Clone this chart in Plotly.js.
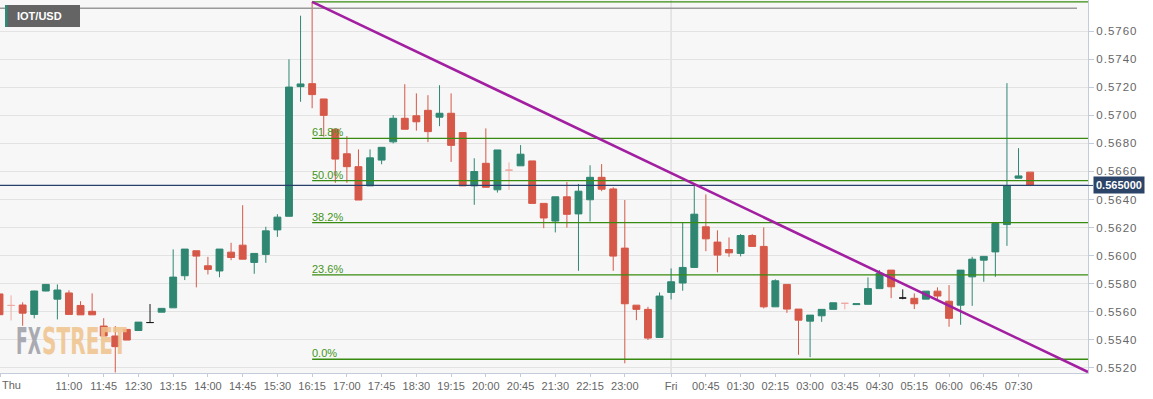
<!DOCTYPE html>
<html><head><meta charset="utf-8">
<script src="https://cdn.plot.ly/plotly-3.0.1.min.js"></script>
<style>
html,body{margin:0;padding:0;background:#fff;overflow:hidden;}
#chart{width:1153px;height:399px;}
.yaxislayer-above text{letter-spacing:1px;}
</style></head><body><div id="chart"></div>
<script>
// ---------- data ----------
const thuDate = '2021-06-10';
const friDate = '2021-06-11';
const thuTimes = ['09:30','09:45','10:00','10:15','10:30','10:45','11:00','11:15','11:30','11:45',
  '12:00','12:15','12:30','12:45','13:00','13:15','13:30','13:45','14:00','14:15',
  '14:30','14:45','15:00','15:15','15:30','15:45','16:00','16:15','16:30','16:45',
  '17:00','17:15','17:30','17:45','18:00','18:15','18:30','18:45','19:00','19:15',
  '19:30','19:45','20:00','20:15','20:30','20:45','21:00','21:15','21:30','21:45',
  '22:00','22:15','22:30','22:45','23:00','23:15','23:30','23:45'];
const friTimes = ['00:00','00:15','00:30','00:45','01:00','01:15','01:30','01:45','02:00','02:15',
  '02:30','02:45','03:00','03:15','03:30','03:45','04:00','04:15','04:30','04:45',
  '05:00','05:15','05:30','05:45','06:00','06:15','06:30','06:45','07:00','07:15',
  '07:30','07:45'];
const opens = [0.55726,0.55644,0.55647,0.55580,0.55747,0.55689,0.55733,0.55644,0.55602,0.55497,
  0.55426,0.55473,0.55465,0.55522,0.55596,0.55627,0.55856,0.56034,0.55927,0.55890,
  0.56024,0.56074,0.55951,0.56008,0.56183,0.56280,0.57205,0.57226,0.57117,0.56901,
  0.56726,0.56634,0.56497,0.56681,0.56811,0.56979,0.56997,0.57036,0.56987,0.57015,
  0.56877,0.56497,0.56658,0.56469,0.56609,0.56640,0.56675,0.56372,0.56246,0.56419,
  0.56297,0.56398,0.56558,0.56475,0.56053,0.55646,0.55616,0.55416,0.55737,0.55804,
  0.55915,0.56205,0.56096,0.56043,0.56015,0.56143,0.56065,0.55634,0.55794,0.55618,
  0.55532,0.55570,0.55616,0.55659,0.55650,0.55652,0.55764,0.55896,0.55697,0.55695,
  0.55689,0.55746,0.55674,0.55646,0.55848,0.55967,0.56026,0.56221,0.56552,0.56595];
const highs = [0.55735,0.55716,0.55666,0.55749,0.55796,0.55794,0.55752,0.55674,0.55730,0.55553,
  0.55497,0.55473,0.55525,0.55654,0.55623,0.56044,0.56046,0.56034,0.55991,0.56046,
  0.56091,0.56359,0.56015,0.56205,0.56295,0.57400,0.57711,0.57810,0.57117,0.56901,
  0.56852,0.56757,0.56757,0.56772,0.57002,0.57222,0.57157,0.57144,0.57215,0.57157,
  0.56877,0.56694,0.56907,0.56753,0.56664,0.56788,0.56675,0.56372,0.56419,0.56525,
  0.56511,0.56644,0.56652,0.56487,0.56396,0.55646,0.55634,0.55737,0.55908,0.56233,
  0.56509,0.56436,0.56180,0.56129,0.56153,0.56153,0.56201,0.55830,0.55794,0.55618,
  0.55575,0.55616,0.55663,0.55659,0.55656,0.55844,0.55896,0.55896,0.55759,0.55730,
  0.55746,0.55773,0.55789,0.55896,0.55991,0.55994,0.56233,0.57230,0.56766,0.56595];
const lows = [0.55570,0.55537,0.55499,0.55552,0.55745,0.55544,0.55580,0.55577,0.55577,0.55420,
  0.55166,0.55397,0.55465,0.55522,0.55596,0.55627,0.55825,0.55773,0.55865,0.55845,
  0.55967,0.55974,0.55870,0.55948,0.56133,0.56280,0.57097,0.57051,0.56848,0.56519,
  0.56519,0.56396,0.56497,0.56651,0.56800,0.56901,0.56891,0.56809,0.56923,0.56668,
  0.56497,0.56362,0.56487,0.56449,0.56468,0.56640,0.56372,0.56195,0.56165,0.56199,
  0.55891,0.56243,0.56459,0.55891,0.55231,0.55539,0.55397,0.55416,0.55687,0.55749,
  0.55915,0.56031,0.55880,0.55991,0.55994,0.56065,0.55623,0.55634,0.55591,0.55292,
  0.55275,0.55527,0.55616,0.55616,0.55650,0.55652,0.55764,0.55696,0.55688,0.55618,
  0.55689,0.55689,0.55492,0.55506,0.55641,0.55813,0.55848,0.56069,0.56552,0.56495];
const closes = [0.55578,0.55644,0.55589,0.55747,0.55794,0.55754,0.55580,0.55577,0.55577,0.55426,
  0.55350,0.55397,0.55525,0.55522,0.55623,0.55846,0.56046,0.55996,0.55901,0.56046,
  0.55986,0.55974,0.56015,0.56176,0.56274,0.57202,0.57224,0.57148,0.57000,0.56688,
  0.56634,0.56396,0.56697,0.56772,0.56979,0.56901,0.56954,0.56884,0.57015,0.56786,
  0.56497,0.56599,0.56487,0.56753,0.56609,0.56723,0.56372,0.56268,0.56419,0.56294,
  0.56459,0.56558,0.56473,0.55996,0.55656,0.55616,0.55411,0.55711,0.55813,0.55915,
  0.56295,0.56119,0.56003,0.56019,0.56143,0.56065,0.55634,0.55820,0.55618,0.55539,
  0.55575,0.55616,0.55663,0.55659,0.55656,0.55764,0.55873,0.55777,0.55697,0.55656,
  0.55746,0.55711,0.55552,0.55896,0.55974,0.55994,0.56229,0.56499,0.56568,0.56500];
const blackDojiIdx = [13, 78];
const paleDojiIdx = [1, 44, 73];

const tickTimes = [thuDate+' 09:30:45',
  thuDate+' 11:00',thuDate+' 11:45',thuDate+' 12:30',thuDate+' 13:15',thuDate+' 14:00',thuDate+' 14:45',
  thuDate+' 15:30',thuDate+' 16:15',thuDate+' 17:00',thuDate+' 17:45',thuDate+' 18:30',thuDate+' 19:15',
  thuDate+' 20:00',thuDate+' 20:45',thuDate+' 21:30',thuDate+' 22:15',thuDate+' 23:00',
  friDate+' 00:00',friDate+' 00:45',friDate+' 01:30',friDate+' 02:15',friDate+' 03:00',friDate+' 03:45',
  friDate+' 04:30',friDate+' 05:15',friDate+' 06:00',friDate+' 06:45',friDate+' 07:30'];
const tickLabels = ['',
  '11:00','11:45','12:30','13:15','14:00','14:45','15:30','16:15','17:00','17:45','18:30','19:15',
  '20:00','20:45','21:30','22:15','23:00',
  'Fri','00:45','01:30','02:15','03:00','03:45','04:30','05:15','06:00','06:45','07:30'];
const firstDayLabel = 'Thu';
const yTicks = [0.5520,0.5540,0.5560,0.5580,0.5600,0.5620,0.5640,0.5660,0.5680,0.5700,0.5720,0.5740,0.5760];

const fibLevels = [0, 0.236, 0.382, 0.5, 0.618, 1];
const fibLabels = ['0.0%', '23.6%', '38.2%', '50.0%', '61.8%', ''];
const fibLow = 0.5526, fibHigh = 0.5781;
const fibStart = thuDate + ' 16:15';
const trendTimes = [thuDate + ' 16:15', friDate + ' 09:00'];
const trendValues = [0.5781, 0.55169];
const lastPrice = 0.5650;
const lastPriceLabel = '0.565000';
const topRefLine = 0.57764;
const symbol = 'IOT/USD';
const watermarkParts = ['FX', 'STREET'];

// ---------- chart ----------
const xStart = thuDate + ' 09:30:40', xEnd = friDate + ' 09:00';
const yMin = 0.55162, yMax = 0.57823;
const W = 1153, H = 399, ML = 0, MR = 65, MT = 0, MB = 26;
const PW = W - ML - MR, PH = H - MT - MB;
const GREEN = '#2f8772', RED = '#d65848';

const xTimes = thuTimes.map(t => thuDate + ' ' + t).concat(friTimes.map(t => friDate + ' ' + t));
const special = new Set(blackDojiIdx.concat(paleDojiIdx));
const mainIdx = xTimes.map((_, i) => i).filter(i => !special.has(i));
const pick = (idx, arr) => idx.map(i => arr[i]);
function candles(idx, inc, dec) {
  return {
    type: 'candlestick', x: pick(idx, xTimes), open: pick(idx, opens), high: pick(idx, highs),
    low: pick(idx, lows), close: pick(idx, closes), whiskerwidth: 0, hoverinfo: 'skip', showlegend: false,
    increasing: {line: {color: inc, width: 1}, fillcolor: inc},
    decreasing: {line: {color: dec, width: 1}, fillcolor: dec}
  };
}
const data = [
  candles(mainIdx, GREEN, RED),
  candles(paleDojiIdx, '#eeaaa2', '#eeaaa2'),
  candles(blackDojiIdx, '#1a1a1a', '#1a1a1a')
];

const fibColor = '#388b10';
const shapes = [
  {type: 'line', xref: 'x', yref: 'paper', x0: friDate + ' 00:00', x1: friDate + ' 00:00', y0: 0, y1: 1,
   line: {color: '#e0e0e0', width: 1.5}, layer: 'below'},
  {type: 'line', xref: 'paper', yref: 'y', x0: 0, x1: 1077 / PW, y0: topRefLine, y1: topRefLine,
   line: {color: '#9a9a9a', width: 1.5}}
];
fibLevels.forEach(l => {
  const v = fibLow + l * (fibHigh - fibLow);
  shapes.push({type: 'line', xref: 'x', yref: 'y', x0: fibStart, x1: xEnd, y0: v, y1: v,
    line: {color: fibColor, width: 1.3}});
});
shapes.push({type: 'line', xref: 'paper', yref: 'y', x0: 0, x1: 1, y0: lastPrice, y1: lastPrice,
  line: {color: '#27416b', width: 1.3}});
shapes.push({type: 'line', xref: 'x', yref: 'y', x0: trendTimes[0], x1: trendTimes[1],
  y0: trendValues[0], y1: trendValues[1], line: {color: '#a11fa0', width: 2.6}});
// symbol box
shapes.push({type: 'rect', xref: 'paper', yref: 'paper', x0: 5 / PW, x1: 80 / PW, y0: 1 - 27 / PH, y1: 1 - 5 / PH,
  fillcolor: '#646464', line: {width: 0}});
shapes.push({type: 'rect', xref: 'paper', yref: 'paper', x0: 5 / PW, x1: 7.5 / PW, y0: 1 - 27 / PH, y1: 1 - 5 / PH,
  fillcolor: '#2f8b78', line: {width: 0}});

const annotations = [];
fibLevels.forEach((l, i) => {
  if (!fibLabels[i]) return;
  annotations.push({xref: 'x', yref: 'y', x: fibStart, y: fibLow + l * (fibHigh - fibLow),
    xanchor: 'left', yanchor: 'bottom', showarrow: false, text: fibLabels[i], xshift: -2, yshift: -2,
    font: {size: 11, color: '#449522', family: 'Liberation Sans, Arial, sans-serif'}});
});
// watermark, two parts, each squeezed horizontally to its width after drawing
const wmFont = 'Liberation Sans Narrow, DejaVu Sans Condensed, Liberation Sans, sans-serif';
const wmLeft = [14, 40], wmWidth = [25, 85], wmColor = ['#9d9da6', '#f1c38c'];
watermarkParts.forEach((p, i) => {
  annotations.push({xref: 'paper', yref: 'paper', x: wmLeft[i] / PW, y: 8 / PH, xanchor: 'left', yanchor: 'bottom',
    showarrow: false, align: 'left', opacity: 0.85, text: '<b>' + p + '</b>',
    font: {size: 37, color: wmColor[i], family: wmFont}});
});
annotations.push({xref: 'paper', yref: 'paper', x: 15 / PW, y: 1 - 16 / PH, xanchor: 'left', yanchor: 'middle',
  showarrow: false, text: '<b>' + symbol + '</b>',
  font: {size: 11, color: '#ffffff', family: 'Liberation Sans, Arial, sans-serif'}});
annotations.push({xref: 'paper', yref: 'paper', x: 0, y: 0, xanchor: 'left', yanchor: 'top', yshift: -4,
  showarrow: false, text: firstDayLabel, font: {size: 11, color: '#666666', family: 'Liberation Sans, Arial, sans-serif'}});
annotations.push({xref: 'paper', yref: 'y', x: 1, y: lastPrice, xanchor: 'left', yanchor: 'middle',
  showarrow: true, ax: 5, ay: 0, arrowhead: 0, arrowwidth: 1, arrowcolor: '#2b4468', standoff: 0,
  text: '<b>' + lastPriceLabel + '</b>', bgcolor: '#2b4468', borderpad: 2,
  font: {size: 11, color: '#ffffff', family: 'Liberation Sans, Arial, sans-serif'}});

const layout = {
  width: W, height: H, margin: {l: ML, r: MR, t: MT, b: MB},
  paper_bgcolor: '#ffffff', plot_bgcolor: '#f7f7f7',
  font: {family: 'Liberation Sans, Arial, sans-serif', color: '#666666'},
  showlegend: false, boxgap: 0.15, boxgroupgap: 0.3, dragmode: false,
  xaxis: {type: 'date', range: [xStart, xEnd], rangeslider: {visible: false}, tickmode: 'array',
    tickvals: tickTimes, ticktext: tickLabels, ticks: 'outside', ticklen: 3, tickcolor: '#c5ccd9',
    showgrid: false, showline: true, linecolor: '#c5ccd9', linewidth: 1, zeroline: false,
    tickfont: {size: 11, color: '#666666'}},
  yaxis: {side: 'right', range: [yMin, yMax], tickmode: 'array', tickvals: yTicks,
    ticktext: yTicks.map(v => v.toFixed(4)), ticks: 'outside', ticklen: 5, tickcolor: '#c5ccd9',
    gridcolor: '#e3e3e3', gridwidth: 1, showline: true, linecolor: '#c5ccd9', mirror: true, zeroline: false,
    tickfont: {size: 11.5, color: '#666666'}},
  shapes: shapes, annotations: annotations
};

Plotly.newPlot('chart', data, layout, {staticPlot: true, displayModeBar: false}).then(gd => {
  gd.querySelectorAll('.annotation-text').forEach(t => {
    const k = watermarkParts.indexOf(t.textContent || '');
    if (k < 0) return;
    const b = t.getBBox();
    if (!b.width) return;
    const sx = wmWidth[k] / b.width;
    // keep the left edge in place while squeezing horizontally
    const prev = t.getAttribute('transform') || '';
    t.setAttribute('transform', prev + ' translate(' + (b.x * (1 - sx)) + ',0) scale(' + sx + ',1)');
  });
});
</script></body></html>
